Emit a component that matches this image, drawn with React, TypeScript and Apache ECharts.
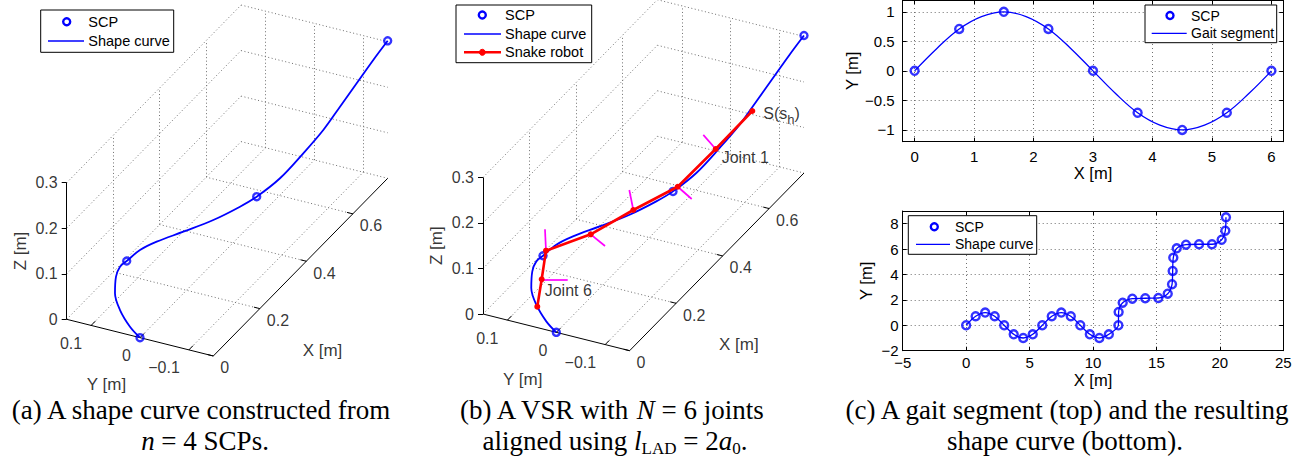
import React, { useEffect, useRef } from "react";
import * as echarts from "echarts";

const SANS = "Liberation Sans";
const SERIF = "Liberation Serif";
const BLUE = "#0000ff";
const RED = "#ff0000";
const MAGENTA = "#ff00ff";
const GRID_GRAY = "#6f6f6f";
const MINUS = "\u2212";

// ---------- panels (a) and (b): 3-D shape curve ----------
const xLim3 = [0, 0.75];
const yLim3 = [-0.15, 0.15];
const zLim3 = [0, 0.3];
const xTicks3 = [0, 0.2, 0.4, 0.6];
const yTicks3 = [-0.1, 0, 0.1];
const zTicks3 = [0, 0.1, 0.2, 0.3];
const xTickLabels3 = ["0", "0.2", "0.4", "0.6"];
const yTickLabels3 = [MINUS + "0.1", "0", "0.1"];
const zTickLabels3 = ["0", "0.1", "0.2", "0.3"];

// shape control points (SCP), n = 4
const scpX3 = [0, 0, 0.3443, 0.75];
const scpY3 = [0, 0.0272, -0.075, -0.15];
const scpZ3 = [0, 0.161, 0.1506, 0.302];

// shape curve samples
const curveX3 = [0, 0, 0, 0, 0, 0, 0, 0.0376, 0.0815, 0.1514, 0.2302, 0.3004, 0.3443, 0.4166, 0.4886, 0.5507, 0.6023, 0.6539, 0.7054, 0.75];
const curveY3 = [0, 0.0205, 0.0409, 0.0512, 0.0491, 0.0409, 0.0272, 0.0179, 0.0046, -0.0166, -0.0405, -0.0617, -0.075, -0.0883, -0.1017, -0.1131, -0.1227, -0.1323, -0.1418, -0.15];
const curveZ3 = [0, 0.0186, 0.0497, 0.0837, 0.1207, 0.1449, 0.161, 0.1681, 0.1671, 0.1584, 0.1495, 0.1479, 0.1506, 0.157, 0.178, 0.1999, 0.2268, 0.2539, 0.2809, 0.302];

// snake robot (head S(s_h), joints 1..6, tail)
const robotX3 = [0.59, 0.4764, 0.3588, 0.24, 0.128, 0, 0, 0];
const robotY3 = [-0.1204, -0.0995, -0.0777, -0.0434, -0.0095, 0.0211, 0.0299, 0.0389];
const robotZ3 = [0.2115, 0.1815, 0.154, 0.1555, 0.1513, 0.1737, 0.1085, 0.0459];

// joint axis end points (joints 1..6)
const jointAxisX3 = [0.4231, 0.4191, 0.2228, 0.1895, -0.0043, 0.1119];
const jointAxisY3 = [-0.0995, -0.0777, -0.0434, -0.0095, 0.0211, 0.0299];
const jointAxisZ3 = [0.2402, 0.0957, 0.2084, 0.0936, 0.2229, 0.0503];

// ---------- panel (c) top: gait segment ----------
const gaitScpX = [0, 0.75, 1.5, 2.25, 3, 3.75, 4.5, 5.25, 6];
const gaitScpY = [0, 0.71, 1, 0.71, 0, -0.71, -1, -0.71, 0];
const gaitCurveX = [0, 0.375, 0.75, 1.125, 1.5, 1.875, 2.25, 2.625, 3, 3.375, 3.75, 4.125, 4.5, 4.875, 5.25, 5.625, 6];
const gaitCurveY = [0, 0.38, 0.71, 0.92, 1, 0.92, 0.71, 0.38, 0, -0.38, -0.71, -0.92, -1, -0.92, -0.71, -0.38, 0];
const gaitXTicks = [0, 1, 2, 3, 4, 5, 6];
const gaitYTicks = [-1, -0.5, 0, 0.5, 1];

// ---------- panel (c) bottom: resulting shape curve ----------
const shapeScpX = [0, 0.75, 1.5, 2.25, 3, 3.75, 4.5, 5.25, 6, 6.75, 7.5, 8.25, 9, 9.75, 10.5, 11.25, 12, 12.02, 12.34, 13.1, 14.12, 15.15, 15.89, 16.23, 16.28, 16.33, 16.6, 17.33, 18.36, 19.38, 20.14, 20.43, 20.48];
const shapeScpY = [0, 0.71, 1, 0.71, 0, -0.71, -1, -0.71, 0, 0.71, 1, 0.71, 0, -0.71, -1, -0.71, 0, 1.05, 1.78, 2.1, 2.13, 2.15, 2.49, 3.23, 4.28, 5.32, 6.06, 6.35, 6.38, 6.38, 6.74, 7.45, 8.5];
const shapeXTicks = [-5, 0, 5, 10, 15, 20, 25];
const shapeYTicks = [-2, 0, 2, 4, 6, 8];

// ---------- layout (view of the 3-D axes, pixels) ----------
const VIEW_ORIGIN = [140, 337.65];
const VIEW_EX = [232.5, -236.9];
const VIEW_EY = [-488.7, -122.3];
const VIEW_EZ = [0, -455.3];
const PANEL_SHIFT = [
  [0, 0],
  [416.3, -5.3],
];

function makeProj(shift: number[]) {
  return (x: number, y: number, z: number) => [
    VIEW_ORIGIN[0] + shift[0] + VIEW_EX[0] * x + VIEW_EY[0] * y + VIEW_EZ[0] * z,
    VIEW_ORIGIN[1] + shift[1] + VIEW_EX[1] * x + VIEW_EY[1] * y + VIEW_EZ[1] * z,
  ];
}

function labelSeries(items: any[], fontSize: number) {
  return {
    type: "scatter",
    xAxisIndex: 0,
    yAxisIndex: 0,
    symbol: "circle",
    symbolSize: 1,
    silent: true,
    itemStyle: { color: "rgba(0,0,0,0)" },
    label: {
      show: true,
      position: "inside",
      color: "#000",
      fontFamily: SANS,
      fontSize,
    },
    data: items.map((it) => ({
      value: it.p,
      label: {
        formatter: it.text,
        align: it.align || "center",
        verticalAlign: "middle",
        offset: it.off || [0, 0],
        rotate: it.rotate || 0,
        rich: it.rich,
        lineHeight: it.lineHeight,
      },
    })),
    z: 6,
  };
}

function panel3D(shift: number[], withRobot: boolean) {
  const P = makeProj(shift);
  const seg = (a: number[], b: number[]) => ({ coords: [P(a[0], a[1], a[2]), P(b[0], b[1], b[2])] });
  const [x0, x1] = xLim3;
  const [y0, y1] = yLim3;
  const [z0, z1] = zLim3;

  const grid: any[] = [];
  // floor z = z0
  yTicks3.forEach((y) => grid.push(seg([x0, y, z0], [x1, y, z0])));
  xTicks3.forEach((x) => x > x0 && grid.push(seg([x, y0, z0], [x, y1, z0])));
  // back wall y = y1
  zTicks3.forEach((z) => grid.push(seg([x0, y1, z], [x1, y1, z])));
  xTicks3.forEach((x) => x > x0 && grid.push(seg([x, y1, z0], [x, y1, z1])));
  // back wall x = x1
  zTicks3.forEach((z) => grid.push(seg([x1, y1, z], [x1, y0, z])));
  yTicks3.forEach((y) => grid.push(seg([x1, y, z0], [x1, y, z1])));

  const axes = [seg([x0, y1, z0], [x0, y0, z0]), seg([x0, y0, z0], [x1, y0, z0]), seg([x0, y1, z0], [x0, y1, z1])];
  const ticks: any[] = [];
  yTicks3.forEach((y) => ticks.push(seg([x0, y, z0], [x0 + 0.018, y, z0])));
  xTicks3.forEach((x) => ticks.push(seg([x, y0, z0], [x, y0 + 0.012, z0])));
  zTicks3.forEach((z) => {
    const p = P(x0, y1, z);
    ticks.push({ coords: [p, [p[0] - 5, p[1]]] });
  });

  const labels: any[] = [];
  yTicks3.forEach((y, i) => labels.push({ p: P(x0, y, z0), text: yTickLabels3[i], align: "right", off: [-9, 18] }));
  xTicks3.forEach((x, i) => labels.push({ p: P(x, y0, z0), text: xTickLabels3[i], align: "left", off: [7, 12] }));
  zTicks3.forEach((z, i) => labels.push({ p: P(x0, y1, z), text: zTickLabels3[i], align: "right", off: [-9, 0] }));

  const titles = [
    { p: P(x0, 0, z0), text: "Y [m]", off: [-33.5, 47] },
    { p: P((x0 + x1) / 2, y0, z0), text: "X [m]", off: [22, 83] },
    // rotated label: offset is given in the rotated frame
    { p: P(x0, y1, (z0 + z1) / 2), text: "Z [m]", off: [0, -46.5], rotate: 90 },
  ];

  const series: any[] = [
    {
      type: "lines",
      coordinateSystem: "cartesian2d",
      xAxisIndex: 0,
      yAxisIndex: 0,
      silent: true,
      data: grid,
      lineStyle: { color: GRID_GRAY, width: 1, type: [1, 2.5], opacity: 1 },
      z: 1,
    },
    {
      type: "lines",
      coordinateSystem: "cartesian2d",
      xAxisIndex: 0,
      yAxisIndex: 0,
      silent: true,
      data: axes.concat(ticks),
      lineStyle: { color: "#000", width: 1, type: "solid", opacity: 1 },
      z: 2,
    },
    labelSeries(labels, 16),
    labelSeries(titles, 17),
    {
      type: "line",
      xAxisIndex: 0,
      yAxisIndex: 0,
      silent: true,
      data: curveX3.map((x, i) => P(x, curveY3[i], curveZ3[i])),
      smooth: 0.35,
      showSymbol: false,
      symbol: "none",
      lineStyle: { color: BLUE, width: 1.8 },
      z: 3,
    },
    {
      type: "scatter",
      xAxisIndex: 0,
      yAxisIndex: 0,
      silent: true,
      data: scpX3.map((x, i) => P(x, scpY3[i], scpZ3[i])),
      symbol: "circle",
      symbolSize: 7,
      itemStyle: { color: "rgba(0,0,0,0)", borderColor: BLUE, borderWidth: 2.4 },
      z: 4,
    },
  ];

  if (withRobot) {
    const jointAxes = jointAxisX3.map((x, i) => ({
      coords: [P(robotX3[i + 1], robotY3[i + 1], robotZ3[i + 1]), P(x, jointAxisY3[i], jointAxisZ3[i])],
    }));
    series.push(
      {
        type: "lines",
        coordinateSystem: "cartesian2d",
        xAxisIndex: 0,
        yAxisIndex: 0,
        silent: true,
        data: jointAxes,
        lineStyle: { color: MAGENTA, width: 1.7, type: "solid", opacity: 1 },
        z: 5,
      },
      {
        type: "line",
        xAxisIndex: 0,
        yAxisIndex: 0,
        silent: true,
        data: robotX3.map((x, i) => P(x, robotY3[i], robotZ3[i])),
        showSymbol: true,
        showAllSymbol: true,
        symbol: "circle",
        symbolSize: 6,
        itemStyle: { color: RED },
        lineStyle: { color: RED, width: 2.6 },
        z: 5,
      },
      labelSeries(
        [
          {
            p: P(robotX3[0], robotY3[0], robotZ3[0]),
            text: "S(s{sub|h})",
            align: "left",
            off: [11, 2],
            lineHeight: 26,
            rich: { sub: { fontSize: 13, fontFamily: SANS, verticalAlign: "bottom", lineHeight: 26 } },
          },
          { p: P(robotX3[1], robotY3[1], robotZ3[1]), text: "Joint 1", align: "left", off: [6, 8] },
          { p: P(robotX3[6], robotY3[6], robotZ3[6]), text: "Joint 6", align: "left", off: [3, 11] },
        ],
        16
      )
    );
  }
  return series;
}

function cartesian(gridIndex: number, xr: number[], xv: number[], yr: number[], yv: number[], m: any) {
  const fmt = (v: number) => String(v).replace("-", MINUS);
  const line = { show: true, onZero: false, lineStyle: { color: "#000", width: 1 } };
  const tick = (vals: number[]) => ({ show: true, inside: true, length: 4, customValues: vals, lineStyle: { color: "#000", width: 1 } });
  const split = { show: true, lineStyle: { color: GRID_GRAY, width: 1, type: [1, 3] } };
  const nameStyle = { color: "#000", fontFamily: SANS, fontSize: 16.5 };
  const lab = (vals: number[], margin: number) => ({
    show: true,
    customValues: vals,
    formatter: fmt,
    color: "#000",
    fontFamily: SANS,
    fontSize: 15,
    margin,
  });
  const xAxis = [
    {
      type: "value",
      gridIndex,
      min: xr[0],
      max: xr[1],
      position: "bottom",
      axisLine: line,
      axisTick: tick(xv),
      axisLabel: lab(xv, m.xm),
      splitLine: split,
      name: "X [m]",
      nameLocation: "middle",
      nameGap: m.xg,
      nameTextStyle: nameStyle,
    },
    {
      type: "value",
      gridIndex,
      min: xr[0],
      max: xr[1],
      position: "top",
      axisLine: line,
      axisTick: tick(xv),
      axisLabel: { show: false },
      splitLine: { show: false },
    },
  ];
  const yAxis = [
    {
      type: "value",
      gridIndex,
      min: yr[0],
      max: yr[1],
      position: "left",
      axisLine: line,
      axisTick: tick(yv),
      axisLabel: lab(yv, m.ym),
      splitLine: split,
      name: "Y [m]",
      nameLocation: "middle",
      nameGap: m.yg,
      nameTextStyle: nameStyle,
    },
    {
      type: "value",
      gridIndex,
      min: yr[0],
      max: yr[1],
      position: "right",
      axisLine: line,
      axisTick: tick(yv),
      axisLabel: { show: false },
      splitLine: { show: false },
    },
  ];
  return { xAxis, yAxis };
}

function legendBox(x: number, y: number, w: number, h: number, entries: any[]) {
  const els: any[] = [
    { type: "rect", z: 100, shape: { x, y, width: w, height: h }, style: { fill: "#fff", stroke: "#000", lineWidth: 1 } },
  ];
  entries.forEach((e) => {
    if (e.line) {
      els.push({ type: "line", z: 101, shape: { x1: e.lx1, y1: e.y, x2: e.lx2, y2: e.y }, style: { stroke: e.color, lineWidth: e.lw } });
    }
    if (e.dot) {
      els.push({ type: "circle", z: 102, shape: { cx: e.mx, cy: e.y, r: 3 }, style: { fill: e.color, stroke: e.color, lineWidth: 1 } });
    }
    if (e.ring) {
      els.push({ type: "circle", z: 102, shape: { cx: e.mx, cy: e.y, r: 3.5 }, style: { fill: "none", stroke: BLUE, lineWidth: 2.4 } });
    }
    els.push({
      type: "text",
      z: 102,
      x: e.tx,
      y: e.y,
      style: {
        text: e.text,
        fill: "#000",
        font: `${e.fs}px "${SANS}"`,
        align: "left",
        verticalAlign: "middle",
        textAlign: "left",
        textVerticalAlign: "middle",
      },
    });
  });
  return els;
}

const CAP_FS = 27;
function caption(x: number, y: number, text: string) {
  const rich = {
    i: { fontFamily: SERIF, fontSize: CAP_FS, fontStyle: "italic", lineHeight: 32 },
    s: { fontFamily: SERIF, fontSize: 17, lineHeight: 32, verticalAlign: "bottom" },
  };
  return {
    type: "text",
    x,
    y,
    style: {
      text,
      rich,
      fill: "#000",
      fontFamily: SERIF,
      fontSize: CAP_FS,
      lineHeight: 32,
      align: "center",
      verticalAlign: "middle",
      textAlign: "center",
      textVerticalAlign: "middle",
    },
  };
}

export default function App() {
  const ref = useRef<HTMLDivElement>(null);
  useEffect(() => {
    if (!ref.current) return;
    const chart = echarts.init(ref.current, null, { renderer: "svg" });

    const top = cartesian(1, [-0.2, 6.2], gaitXTicks, [-1.2, 1.2], gaitYTicks, { xm: 7, xg: 22, ym: 8, yg: 42 });
    const bot = cartesian(2, [-5, 25], shapeXTicks, [-2, 9], shapeYTicks, { xm: 4, xg: 21, ym: 4, yg: 28 });

    const option: any = {
      animation: false,
      backgroundColor: "#fff",
      grid: [
        { left: 0, top: 0, width: 1314, height: 464 },
        { left: 902.7, top: -0.5, width: 380.6, height: 142.2 },
        { left: 902.7, top: 211, width: 380.6, height: 139.7 },
      ],
      xAxis: [{ type: "value", gridIndex: 0, min: 0, max: 1314, show: false }, ...top.xAxis, ...bot.xAxis],
      yAxis: [{ type: "value", gridIndex: 0, min: 0, max: 464, inverse: true, show: false }, ...top.yAxis, ...bot.yAxis],
      series: [
        ...panel3D(PANEL_SHIFT[0], false),
        ...panel3D(PANEL_SHIFT[1], true),
        {
          type: "line",
          xAxisIndex: 1,
          yAxisIndex: 1,
          silent: true,
          data: gaitCurveX.map((x, i) => [x, gaitCurveY[i]]),
          smooth: 0.4,
          symbol: "none",
          lineStyle: { color: BLUE, width: 1.3 },
          z: 3,
        },
        {
          type: "scatter",
          xAxisIndex: 1,
          yAxisIndex: 1,
          silent: true,
          data: gaitScpX.map((x, i) => [x, gaitScpY[i]]),
          symbol: "circle",
          symbolSize: 8,
          itemStyle: { color: "rgba(0,0,0,0)", borderColor: BLUE, borderWidth: 2.4 },
          z: 4,
        },
        {
          type: "line",
          xAxisIndex: 3,
          yAxisIndex: 3,
          silent: true,
          data: shapeScpX.map((x, i) => [x, shapeScpY[i]]),
          smooth: 0.3,
          symbol: "none",
          lineStyle: { color: BLUE, width: 1.3 },
          z: 3,
        },
        {
          type: "scatter",
          xAxisIndex: 3,
          yAxisIndex: 3,
          silent: true,
          data: shapeScpX.map((x, i) => [x, shapeScpY[i]]),
          symbol: "circle",
          symbolSize: 8,
          itemStyle: { color: "rgba(0,0,0,0)", borderColor: BLUE, borderWidth: 2.4 },
          z: 4,
        },
      ],
      graphic: {
        elements: [
          ...legendBox(40.7, 10, 133, 42.3, [
            { text: "SCP", y: 21.7, tx: 88.3, mx: 66.7, ring: true, fs: 14.5 },
            { text: "Shape curve", y: 41, tx: 88.3, line: true, lx1: 48, lx2: 84, color: BLUE, lw: 1.5, fs: 14.5 },
          ]),
          ...legendBox(456, 5, 135.7, 57.7, [
            { text: "SCP", y: 15, tx: 505, mx: 482.3, ring: true, fs: 14.5 },
            { text: "Shape curve", y: 34, tx: 505, line: true, lx1: 464, lx2: 501, color: BLUE, lw: 1.5, fs: 14.5 },
            { text: "Snake robot", y: 52.3, tx: 505, line: true, lx1: 464, lx2: 501, color: RED, lw: 2.6, dot: true, mx: 482.3, fs: 14.5 },
          ]),
          ...legendBox(1145, 5, 131.7, 37.7, [
            { text: "SCP", y: 15.5, tx: 1191, mx: 1170, ring: true, fs: 14 },
            { text: "Gait segment", y: 33.3, tx: 1191, line: true, lx1: 1151.7, lx2: 1186.7, color: BLUE, lw: 1.3, fs: 14 },
          ]),
          ...legendBox(908.3, 215.7, 128.4, 38.6, [
            { text: "SCP", y: 226.7, tx: 955, mx: 934.3, ring: true, fs: 14 },
            { text: "Shape curve", y: 244.3, tx: 955, line: true, lx1: 916, lx2: 950, color: BLUE, lw: 1.3, fs: 14 },
          ]),
          caption(201, 410, "(a) A shape curve constructed from"),
          caption(205, 441, "{i|n} = 4 SCPs."),
          caption(611, 410, "(b) A VSR with {i|N} = 6 joints"),
          caption(615, 441, "aligned using {i|l}{s|LAD} = 2{i|a}{s|0}."),
          caption(1067, 410, "(c) A gait segment (top) and the resulting"),
          caption(1065, 441, "shape curve (bottom)."),
        ],
      },
    };
    chart.setOption(option);
    return () => chart.dispose();
  }, []);
  return <div ref={ref} style={{ position: "fixed", left: 0, top: 0, width: 1314, height: 464 }} />;
}
